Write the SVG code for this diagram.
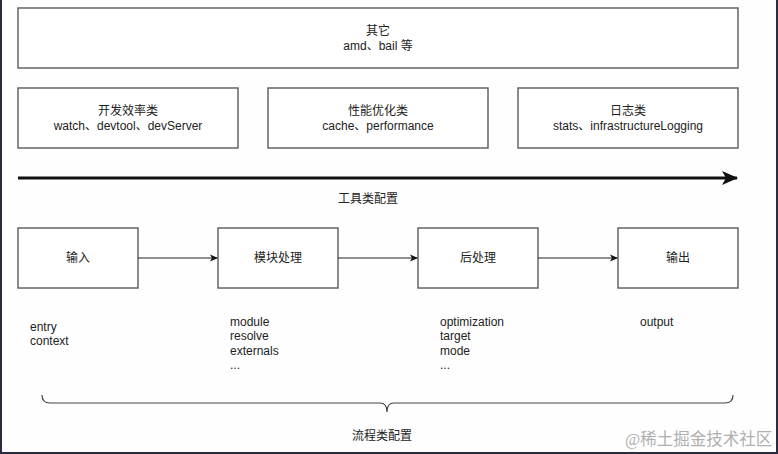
<svg xmlns="http://www.w3.org/2000/svg" width="778" height="454" viewBox="0 0 778 454">
<defs>
<style>
.box{fill:#fff;stroke:#5a5a5a;stroke-width:1.4}
.t{font-family:"Liberation Sans","Noto Sans CJK SC",sans-serif;font-size:12px;fill:#222}
.c{text-anchor:middle}
.ln{stroke:#222;stroke-width:1.2;fill:none}
</style>
<marker id="ah" markerWidth="8" markerHeight="8" refX="7" refY="4" orient="auto" markerUnits="userSpaceOnUse">
<path d="M0,0.5 L8,4 L0,7.5 L2,4 Z" fill="#111"/>
</marker>
<marker id="bah" markerWidth="16" markerHeight="14" refX="15" refY="7" orient="auto" markerUnits="userSpaceOnUse">
<path d="M0,0 L16,7 L0,14 L4,7 Z" fill="#111"/>
</marker>
</defs>
<rect width="778" height="454" fill="#fefefe"/>
<path d="M1,0 V453 H777 V0" fill="none" stroke="#2a2a40" stroke-width="2"/>
<g id="other"><rect class="box" x="18" y="8" width="720" height="60"/>
<text class="t c" x="378" y="35">其它</text><text class="t c" x="378" y="50">amd、bail 等</text></g>
<g id="dev"><rect class="box" x="18" y="88" width="220" height="60"/>
<text class="t c" x="128" y="115">开发效率类</text><text class="t c" x="128" y="130">watch、devtool、devServer</text></g>
<g id="perf"><rect class="box" x="268" y="88" width="220" height="60"/>
<text class="t c" x="378" y="115">性能优化类</text><text class="t c" x="378" y="130">cache、performance</text></g>
<g id="log"><rect class="box" x="518" y="88" width="220" height="60"/>
<text class="t c" x="628" y="115">日志类</text><text class="t c" x="628" y="130">stats、infrastructureLogging</text></g>
<g id="tools-label"><text class="t c" x="368" y="203">工具类配置</text></g>
<g id="input"><rect class="box" x="18" y="228" width="120" height="60"/><text class="t c" x="78" y="262">输入</text></g>
<g id="module"><rect class="box" x="218" y="228" width="120" height="60"/><text class="t c" x="278" y="262">模块处理</text></g>
<g id="post"><rect class="box" x="418" y="228" width="120" height="60"/><text class="t c" x="478" y="262">后处理</text></g>
<g id="output"><rect class="box" x="618" y="228" width="120" height="60"/><text class="t c" x="678" y="262">输出</text></g>
<g id="connectors">
<line x1="18" y1="178" x2="737" y2="178" stroke="#111" stroke-width="3" marker-end="url(#bah)"/>
<line class="ln" x1="138" y1="258" x2="217" y2="258" marker-end="url(#ah)"/>
<line class="ln" x1="338" y1="258" x2="417" y2="258" marker-end="url(#ah)"/>
<line class="ln" x1="538" y1="258" x2="617" y2="258" marker-end="url(#ah)"/>
<path d="M42,395 Q42,403 50,403 H380 Q387,403 387,412 Q387,403 394,403 H725 Q733,403 733,395" fill="none" stroke="#444" stroke-width="1.2"/>
</g>
<g id="input-list"><text class="t" x="30" y="331">entry</text><text class="t" x="30" y="345">context</text></g>
<g id="module-list"><text class="t" x="230" y="326">module</text><text class="t" x="230" y="340">resolve</text><text class="t" x="230" y="355">externals</text><text class="t" x="230" y="369">...</text></g>
<g id="post-list"><text class="t" x="440" y="326">optimization</text><text class="t" x="440" y="340">target</text><text class="t" x="440" y="355">mode</text><text class="t" x="440" y="369">...</text></g>
<g id="output-list"><text class="t" x="640" y="326">output</text></g>
<g id="flow-label"><text class="t c" x="382" y="440">流程类配置</text></g>
<text x="625" y="445" style="font-family:'Liberation Serif','Noto Sans CJK SC',serif;font-size:16.5px;fill:#b0b0b0">@稀土掘金技术社区</text>
</svg>
